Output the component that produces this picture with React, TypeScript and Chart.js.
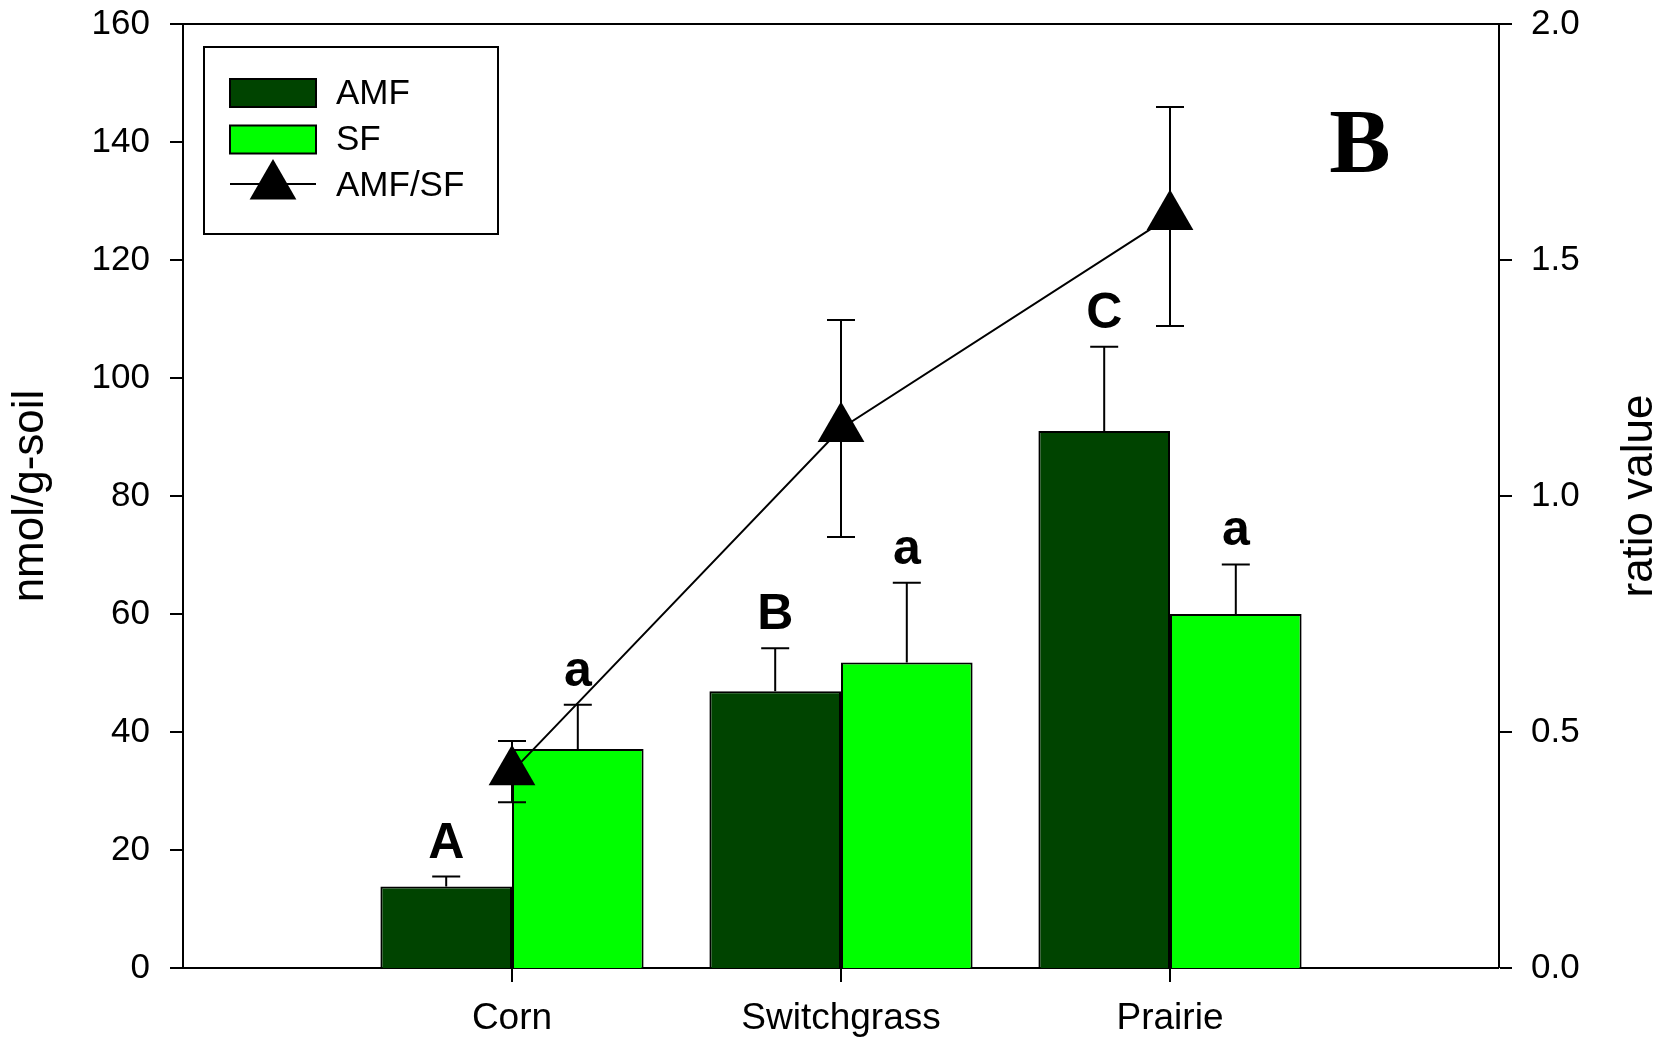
import React, { useEffect, useRef } from 'react';
import { Chart, registerables } from 'chart.js';

Chart.register(...registerables);

// ---- data ----
const categories = ['', 'Corn', 'Switchgrass', 'Prairie', ''];
const amfValues = [null, 13.8, 46.9, 91.0, null];
const amfErrors = [null, 1.7, 7.3, 14.3, null];
const sfValues = [null, 37.1, 51.8, 60.0, null];
const sfErrors = [null, 7.5, 13.5, 8.4, null];
const ratioValues = [null, 0.416, 1.143, 1.592, null];
const ratioErrors = [null, 0.065, 0.23, 0.232, null];
const amfLetters = ['', 'A', 'B', 'C', ''];
const sfLetters = ['', 'a', 'a', 'a', ''];
const leftAxisMax = 160;
const leftAxisStep = 20;
const rightAxisMax = 2.0;
const rightAxisStep = 0.5;
const seriesLabels = ['AMF', 'SF', 'AMF/SF'];
const leftTitle = 'nmol/g-soil';
const rightTitle = 'ratio value';
const panelLetter = 'B';

const DARK = '#004400';
const LIGHT = '#00ff00';
const SANS = '"Liberation Sans", Arial, Helvetica, sans-serif';

const errorPlugin = {
  id: 'errorBarsAndLetters',
  afterDatasetsDraw(chart: any) {
    const ctx = chart.ctx;
    const y = chart.scales.y;
    const y2 = chart.scales.y2;
    ctx.save();
    ctx.strokeStyle = '#000';
    ctx.lineWidth = 2;
    ctx.fillStyle = '#000';
    const barSets = [
      { di: 0, vals: amfValues, errs: amfErrors, letters: amfLetters },
      { di: 1, vals: sfValues, errs: sfErrors, letters: sfLetters },
    ];
    barSets.forEach(({ di, vals, errs, letters }) => {
      const meta = chart.getDatasetMeta(di);
      vals.forEach((v, i) => {
        if (v === null || errs[i] === null) return;
        const el = meta.data[i];
        const x = el.x;
        const yTop = y.getPixelForValue((v as number) + (errs[i] as number));
        ctx.beginPath();
        ctx.moveTo(x, el.y);
        ctx.lineTo(x, yTop);
        ctx.moveTo(x - 14, yTop);
        ctx.lineTo(x + 14, yTop);
        ctx.stroke();
        if (letters[i]) {
          ctx.font = `bold 50px ${SANS}`;
          ctx.textAlign = 'center';
          ctx.textBaseline = 'alphabetic';
          ctx.fillText(letters[i], x, yTop - 19);
        }
      });
    });
    const lmeta = chart.getDatasetMeta(2);
    ratioValues.forEach((v, i) => {
      if (v === null || ratioErrors[i] === null) return;
      const el = lmeta.data[i];
      const x = el.x;
      const yT = y2.getPixelForValue((v as number) + (ratioErrors[i] as number));
      const yB = y2.getPixelForValue((v as number) - (ratioErrors[i] as number));
      ctx.beginPath();
      ctx.moveTo(x, yT);
      ctx.lineTo(x, yB);
      ctx.moveTo(x - 14, yT);
      ctx.lineTo(x + 14, yT);
      ctx.moveTo(x - 14, yB);
      ctx.lineTo(x + 14, yB);
      ctx.stroke();
    });
    ctx.restore();
  },
};

function drawTriangle(ctx: CanvasRenderingContext2D, cx: number, cy: number, r: number) {
  const s = Math.sin((2 * Math.PI) / 3) * r;
  ctx.beginPath();
  ctx.moveTo(cx, cy - r);
  ctx.lineTo(cx + s, cy + r / 2);
  ctx.lineTo(cx - s, cy + r / 2);
  ctx.closePath();
  ctx.fill();
}

const decorPlugin = {
  id: 'decor',
  afterDraw(chart: any) {
    const ctx = chart.ctx;
    const ca = chart.chartArea;
    ctx.save();
    // top frame line
    ctx.strokeStyle = '#000';
    ctx.lineWidth = 2;
    ctx.beginPath();
    ctx.moveTo(ca.left, ca.top);
    ctx.lineTo(ca.right, ca.top);
    ctx.stroke();

    // axis titles
    ctx.fillStyle = '#000';
    ctx.font = `44px ${SANS}`;
    ctx.textAlign = 'center';
    ctx.textBaseline = 'middle';
    const midY = (ca.top + ca.bottom) / 2;
    ctx.save();
    ctx.translate(31, midY);
    ctx.rotate(-Math.PI / 2);
    ctx.fillText(leftTitle, 0, 0);
    ctx.restore();
    ctx.save();
    ctx.translate(ca.right + 141, midY);
    ctx.rotate(-Math.PI / 2);
    ctx.fillText(rightTitle, 0, 0);
    ctx.restore();

    // panel letter
    ctx.font = `bold 92px "Liberation Serif", "Times New Roman", serif`;
    ctx.textAlign = 'center';
    ctx.textBaseline = 'alphabetic';
    ctx.fillText(panelLetter, ca.right - 139, ca.top + 148);

    // legend
    const lx = ca.left + 21;
    const ly = ca.top + 23;
    const lw = 294;
    const lh = 187;
    ctx.fillStyle = '#fff';
    ctx.fillRect(lx, ly, lw, lh);
    ctx.strokeStyle = '#000';
    ctx.lineWidth = 2;
    ctx.strokeRect(lx, ly, lw, lh);
    const rows = [46, 92.5, 138];
    const ds = chart.data.datasets;
    for (let k = 0; k < 3; k++) {
      const cy = ly + rows[k];
      if (k < 2) {
        ctx.fillStyle = ds[k].backgroundColor;
        ctx.fillRect(lx + 26, cy - 14, 86, 28);
        ctx.strokeStyle = '#000';
        ctx.lineWidth = 2;
        ctx.strokeRect(lx + 26, cy - 14, 86, 28);
      } else {
        ctx.strokeStyle = '#000';
        ctx.lineWidth = 2;
        ctx.beginPath();
        ctx.moveTo(lx + 26, cy - 1);
        ctx.lineTo(lx + 112, cy - 1);
        ctx.stroke();
        ctx.fillStyle = '#000';
        drawTriangle(ctx, lx + 69, cy + 1, 27);
      }
      ctx.fillStyle = '#000';
      ctx.font = `35px ${SANS}`;
      ctx.textAlign = 'left';
      ctx.textBaseline = 'middle';
      ctx.fillText(ds[k].label, lx + 132, cy + 1);
    }
    ctx.restore();
  },
};

const fixVertical = (w: number) => (s: any) => {
  s.width = w;
  s.paddingTop = 0;
  s.paddingBottom = 0;
};

export default function App() {
  const ref = useRef<HTMLCanvasElement>(null);
  useEffect(() => {
    if (!ref.current) return;
    const tickFont = { family: SANS, size: 35 };
    const chart = new Chart(ref.current, {
      type: 'bar',
      data: {
        labels: categories,
        datasets: [
          {
            type: 'bar',
            label: seriesLabels[0],
            data: amfValues as any,
            backgroundColor: DARK,
            borderColor: '#000',
            borderWidth: 2,
            yAxisID: 'y',
            order: 2,
            categoryPercentage: 0.8,
            barPercentage: 1.0,
          },
          {
            type: 'bar',
            label: seriesLabels[1],
            data: sfValues as any,
            backgroundColor: LIGHT,
            borderColor: '#000',
            borderWidth: 2,
            yAxisID: 'y',
            order: 2,
            categoryPercentage: 0.8,
            barPercentage: 1.0,
          },
          {
            type: 'line',
            label: seriesLabels[2],
            data: ratioValues as any,
            borderColor: '#000',
            borderWidth: 2,
            backgroundColor: '#000',
            pointStyle: 'triangle',
            pointRadius: 27,
            pointHoverRadius: 27,
            pointBackgroundColor: '#000',
            pointBorderColor: '#000',
            pointBorderWidth: 0,
            yAxisID: 'y2',
            order: 0,
            spanGaps: false,
            tension: 0,
            clip: false,
          } as any,
        ],
      },
      options: {
        animation: false,
        responsive: false,
        maintainAspectRatio: false,
        events: [],
        layout: { autoPadding: false, padding: { top: 24, left: 0, right: 0, bottom: 0 } },
        plugins: {
          legend: { display: false },
          tooltip: { enabled: false },
          title: { display: false },
        },
        scales: {
          x: {
            type: 'category',
            offset: false,
            grid: {
              display: true,
              offset: false,
              drawOnChartArea: false,
              drawTicks: true,
              tickLength: 14,
              tickWidth: 2,
              lineWidth: 0,
              tickColor: (c: any) => (categories[c.index] ? '#000' : 'rgba(0,0,0,0)'),
            },
            border: { display: true, color: '#000', width: 2 },
            ticks: { color: '#000', font: { family: SANS, size: 37 }, padding: 15, maxRotation: 0, autoSkip: false },
            afterFit: (s: any) => {
              s.height = 71;
              s.paddingLeft = 0;
              s.paddingRight = 0;
            },
          },
          y: {
            type: 'linear',
            position: 'left',
            min: 0,
            max: leftAxisMax,
            grid: {
              display: true,
              drawOnChartArea: false,
              drawTicks: true,
              tickLength: 13,
              tickWidth: 2,
              tickColor: '#000',
              lineWidth: 0,
            },
            border: { display: true, color: '#000', width: 2 },
            ticks: { stepSize: leftAxisStep, color: '#000', font: tickFont, padding: 20 },
            afterFit: fixVertical(183),
          },
          y2: {
            type: 'linear',
            position: 'right',
            min: 0,
            max: rightAxisMax,
            grid: {
              display: true,
              drawOnChartArea: false,
              drawTicks: true,
              tickLength: 13,
              tickWidth: 2,
              tickColor: '#000',
              lineWidth: 0,
            },
            border: { display: true, color: '#000', width: 2 },
            ticks: {
              stepSize: rightAxisStep,
              color: '#000',
              font: tickFont,
              padding: 19,
              callback: (v: any) => Number(v).toFixed(1),
            },
            afterFit: fixVertical(172),
          },
        },
      } as any,
      plugins: [errorPlugin, decorPlugin],
    });
    return () => chart.destroy();
  }, []);
  return (
    <div style={{ position: 'fixed', left: 0, top: 0, width: 1671, height: 1039, background: '#fff' }}>
      <canvas ref={ref} width={1671} height={1039} style={{ width: 1671, height: 1039, display: 'block' }} />
    </div>
  );
}
